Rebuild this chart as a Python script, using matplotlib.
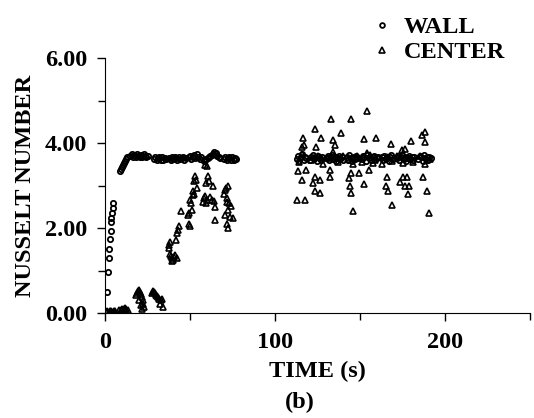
import numpy as np
import matplotlib.pyplot as plt
from matplotlib.ticker import MultipleLocator

plt.rcParams['font.family'] = ['Liberation Serif', 'DejaVu Serif']
plt.rcParams['font.weight'] = 'bold'
plt.rcParams['axes.labelweight'] = 'bold'

# WALL series (time in s, Nusselt number)
wall_t_rise = [1.0, 1.8, 2.2, 2.5, 2.9, 3.3, 3.3, 3.7, 4.1, 4.5, 4.5]
wall_nu_rise = [0.49, 0.97, 1.29, 1.51, 1.73, 1.94, 2.15, 2.23, 2.35, 2.46, 2.58]
wall_t_jump = [8.8, 9.4, 10.0, 10.6, 11.2, 11.8, 12.4, 13.0]
wall_nu_jump = [3.33, 3.38, 3.43, 3.48, 3.53, 3.58, 3.63, 3.67]
wall_t_plat1 = [14.8, 15.6, 16.4, 17.2, 18.0, 18.8, 19.6, 20.4, 21.2, 22.0, 22.8, 23.6, 24.4, 25.2,
                28.8, 29.6, 30.4, 31.2, 32.0, 32.8, 33.6, 34.4, 35.2, 36.0,
                37.8, 38.6, 39.4, 40.2, 41.0, 41.8, 42.6, 43.4, 44.2, 45.0, 45.8, 46.6, 47.4,
                49.2, 50.0, 50.8, 51.6, 52.4, 53.2, 54.0, 54.8, 55.6, 56.4,
                58.0, 58.8, 59.6, 60.4, 61.2, 62.0, 62.8, 63.6, 64.4, 65.2, 66.0, 66.8, 67.6,
                70.0, 70.8, 71.6, 72.4, 73.2, 74.0, 74.8, 75.6, 76.4, 77.2]
wall_nu_plat1 = [3.70, 3.74, 3.66, 3.72, 3.68, 3.74, 3.70, 3.66, 3.72, 3.68, 3.74, 3.70, 3.66, 3.70,
                 3.62, 3.67, 3.60, 3.65, 3.68, 3.61, 3.66, 3.60, 3.65, 3.63,
                 3.64, 3.60, 3.67, 3.62, 3.68, 3.64, 3.60, 3.67, 3.62, 3.65, 3.68, 3.61, 3.64,
                 3.66, 3.70, 3.63, 3.68, 3.72, 3.64, 3.73, 3.68, 3.63, 3.67,
                 3.58, 3.60, 3.62, 3.64, 3.66, 3.69, 3.72, 3.75, 3.78, 3.76, 3.70, 3.66, 3.64,
                 3.62, 3.67, 3.60, 3.65, 3.68, 3.61, 3.66, 3.60, 3.65, 3.63]
wall_t_plat2 = [112.8, 113.6, 114.4, 115.2, 116.0, 116.8, 117.6, 118.4,
                120.6, 121.4, 122.2, 123.0, 123.8, 124.6, 125.4, 126.2, 127.0, 127.8,
                130.4, 131.2, 132.0, 132.8, 133.6, 134.4, 135.2, 136.0, 136.8, 137.6, 138.4, 139.2, 140.0,
                142.2, 143.0, 143.8, 144.6, 145.4, 146.2, 147.0, 147.8, 148.6,
                151.0, 151.8, 152.6, 153.4, 154.2, 155.0, 155.8, 156.6, 157.4, 158.2, 159.0, 159.8, 160.6,
                162.8, 163.6, 164.4, 165.2, 166.0, 166.8, 167.6, 168.4, 169.2, 170.0,
                171.6, 172.4, 173.2, 174.0, 174.8, 175.6, 176.4, 177.2, 178.0, 178.8, 179.6, 180.4, 181.2, 182.0,
                184.4, 185.2, 186.0, 186.8, 187.6, 188.4, 189.2, 190.0, 190.8, 191.6]
wall_nu_plat2 = [3.62, 3.70, 3.58, 3.66, 3.74, 3.60, 3.68, 3.64,
                 3.60, 3.68, 3.72, 3.62, 3.66, 3.58, 3.70, 3.64, 3.60, 3.67,
                 3.64, 3.70, 3.60, 3.66, 3.72, 3.62, 3.68, 3.58, 3.64, 3.70, 3.62, 3.66, 3.60,
                 3.66, 3.60, 3.72, 3.64, 3.58, 3.68, 3.62, 3.70, 3.64,
                 3.62, 3.70, 3.66, 3.58, 3.72, 3.64, 3.68, 3.60, 3.66, 3.70, 3.62, 3.64, 3.68,
                 3.66, 3.60, 3.70, 3.62, 3.68, 3.58, 3.66, 3.72, 3.62, 3.64,
                 3.64, 3.70, 3.60, 3.66, 3.72, 3.62, 3.68, 3.58, 3.64, 3.70, 3.62, 3.66, 3.60, 3.68,
                 3.62, 3.70, 3.66, 3.58, 3.72, 3.64, 3.68, 3.60, 3.66, 3.64]

# CENTER series
center_t1 = [0.5, 1.3, 2.1, 2.9, 3.7, 4.5, 5.3, 6.1, 8.5, 9.3, 10.1, 10.9, 11.7, 12.5, 13.3]
center_nu1 = [0.02, 0.04, 0.03, 0.05, 0.04, 0.03, 0.05, 0.04, 0.06, 0.08, 0.10, 0.09, 0.12, 0.10, 0.08]
center_t2 = [18.4, 19.0, 19.6, 20.2, 20.6, 21.0, 21.6, 22.2, 22.6, 23.2, 19.8, 21.4, 22.0,
             27.8, 28.4, 29.0, 29.4, 30.0, 30.6, 31.4, 32.0, 32.4, 33.0, 33.4, 34.0]
center_nu2 = [0.42, 0.48, 0.52, 0.55, 0.50, 0.44, 0.38, 0.30, 0.22, 0.15, 0.30, 0.20, 0.10,
              0.48, 0.52, 0.50, 0.46, 0.42, 0.40, 0.38, 0.34, 0.22, 0.30, 0.34, 0.15]
center_t3 = [37.6, 37.8, 38.0, 38.2, 38.6, 39.2, 39.6, 40.2, 40.8, 41.2, 41.8, 42.2, 42.5, 43.0, 43.7,
             44.5, 48.8, 49.4, 50.0, 50.2, 50.6, 51.0, 51.6, 52.0, 52.6, 53.0, 53.4, 54.0, 49.6, 52.2,
             57.6, 58.2, 58.8, 59.4, 59.6, 60.0, 60.6, 61.2, 62.0, 62.7, 63.4, 64.0, 64.7, 64.7, 59.0, 60.0,
             70.0, 70.6, 71.0, 71.6, 72.0, 72.5, 72.5, 73.1, 73.5, 74.0, 75.0, 72.5, 71.6, 70.6]
center_nu3 = [1.60, 1.52, 1.40, 1.68, 1.34, 1.29, 1.22, 1.25, 1.32, 1.37, 1.72, 1.29, 1.88, 1.95, 2.04,
              2.41, 2.30, 2.10, 2.04, 2.67, 2.60, 2.43, 2.78, 2.86, 3.10, 3.22, 3.14, 2.94, 2.35, 2.80,
              2.62, 2.70, 2.75, 2.59, 3.06, 2.66, 3.22, 3.10, 2.72, 2.65, 2.98, 2.63, 2.50, 2.18, 3.49, 3.45,
              2.80, 2.89, 2.95, 2.70, 2.62, 3.00, 2.43, 2.59, 2.27, 2.52, 2.24, 2.00, 2.10, 2.31]
center_t4 = [153.9, 132.9, 144.5, 123.3, 138.6, 127.1, 116.3, 159.4, 152.5, 188.2, 186.3, 188.2, 180.0,
             168.2, 134.3, 135.5, 124.1, 115.7, 174.5, 176.5, 153.9,
             113.7, 118.2, 115.7, 123.5, 122.4, 126.3, 123.5, 126.5, 132.4, 132.6, 143.7, 144.5, 149.2,
             143.9, 144.5, 152.4, 155.5, 157.8, 165.7, 165.1, 166.3, 173.5, 175.5, 176.5, 178.9, 177.6,
             178.4, 186.9, 189.6, 112.7, 117.6, 146.1, 169.0, 190.4,
             114.0, 116.0, 117.0, 121.0, 125.0, 128.0, 131.0, 134.0, 137.0, 140.0, 143.0, 146.0, 148.0,
             151.0, 156.0, 159.0, 163.0, 166.0, 169.0, 172.0, 175.0, 178.0, 181.0, 185.0, 188.0, 191.0]
center_nu4 = [4.76, 4.56, 4.56, 4.32, 4.24, 4.11, 4.12, 4.12, 4.09, 4.27, 4.19, 4.02, 4.04,
              3.98, 4.06, 3.95, 3.91, 3.90, 3.84, 3.86, 3.76,
              3.34, 3.36, 3.13, 3.21, 3.06, 3.13, 2.88, 2.82, 3.36, 3.21, 3.17, 3.29, 3.29,
              2.98, 2.82, 3.04, 3.36, 3.52, 3.21, 2.98, 2.86, 3.09, 3.20, 2.98, 2.98, 3.19,
              2.79, 3.20, 2.87, 2.66, 2.66, 2.40, 2.54, 2.35,
              3.55, 3.75, 3.95, 3.60, 3.70, 3.50, 3.65, 3.80, 3.55, 3.70, 3.62, 3.50, 3.70,
              3.55, 3.72, 3.60, 3.50, 3.66, 3.58, 3.70, 3.52, 3.64, 3.55, 3.70, 3.50, 3.62]

wall_t = wall_t_rise + wall_t_jump + wall_t_plat1 + wall_t_plat2
wall_nu = wall_nu_rise + wall_nu_jump + wall_nu_plat1 + wall_nu_plat2
center_t = center_t1 + center_t2 + center_t3 + center_t4
center_nu = center_nu1 + center_nu2 + center_nu3 + center_nu4

fig = plt.figure(figsize=(5.34, 4.18), dpi=100)
ax = fig.add_axes([105/534, 105/418, 425/534, 255/418])

ax.plot(wall_t, wall_nu, linestyle='none', marker='o', ms=3.8, mfc='none', mec='black', mew=1.3, label='WALL')
ax.plot(center_t, center_nu, linestyle='none', marker='^', ms=4.3, mfc='none', mec='black', mew=1.2, label='CENTER')

ax.set_xlim(0, 250)
ax.set_ylim(0, 6)
ax.spines['top'].set_visible(False)
ax.spines['right'].set_visible(False)
ax.xaxis.set_major_locator(MultipleLocator(100))
ax.xaxis.set_minor_locator(MultipleLocator(50))
ax.yaxis.set_major_locator(MultipleLocator(2))
ax.yaxis.set_minor_locator(MultipleLocator(1))
ax.set_yticks([0, 2, 4, 6])
ax.set_yticklabels(['0.00', '2.00', '4.00', '6.00'])
ax.tick_params(which='major', direction='out', length=6, width=1, labelsize=17.5, pad=7)
ax.tick_params(which='minor', direction='out', length=5, width=1)
ax.tick_params(axis='x', which='major', pad=8)

ax.set_xlabel('TIME (s)', fontsize=17.5, labelpad=5)
ax.set_ylabel('NUSSELT NUMBER', fontsize=17.5, labelpad=6)
fig.text(300/534, 1 - 402/418, '(b)', fontsize=17.5, ha='center', va='center')

ax.legend(loc='upper left', bbox_to_anchor=(360/534, 1 - 4/418), bbox_transform=fig.transFigure,
          frameon=False, fontsize=17.5, handlelength=0.8, handletextpad=0.5, labelspacing=0.12,
          borderpad=0, markerscale=0.9)

fig.savefig('out.png', dpi=100)
